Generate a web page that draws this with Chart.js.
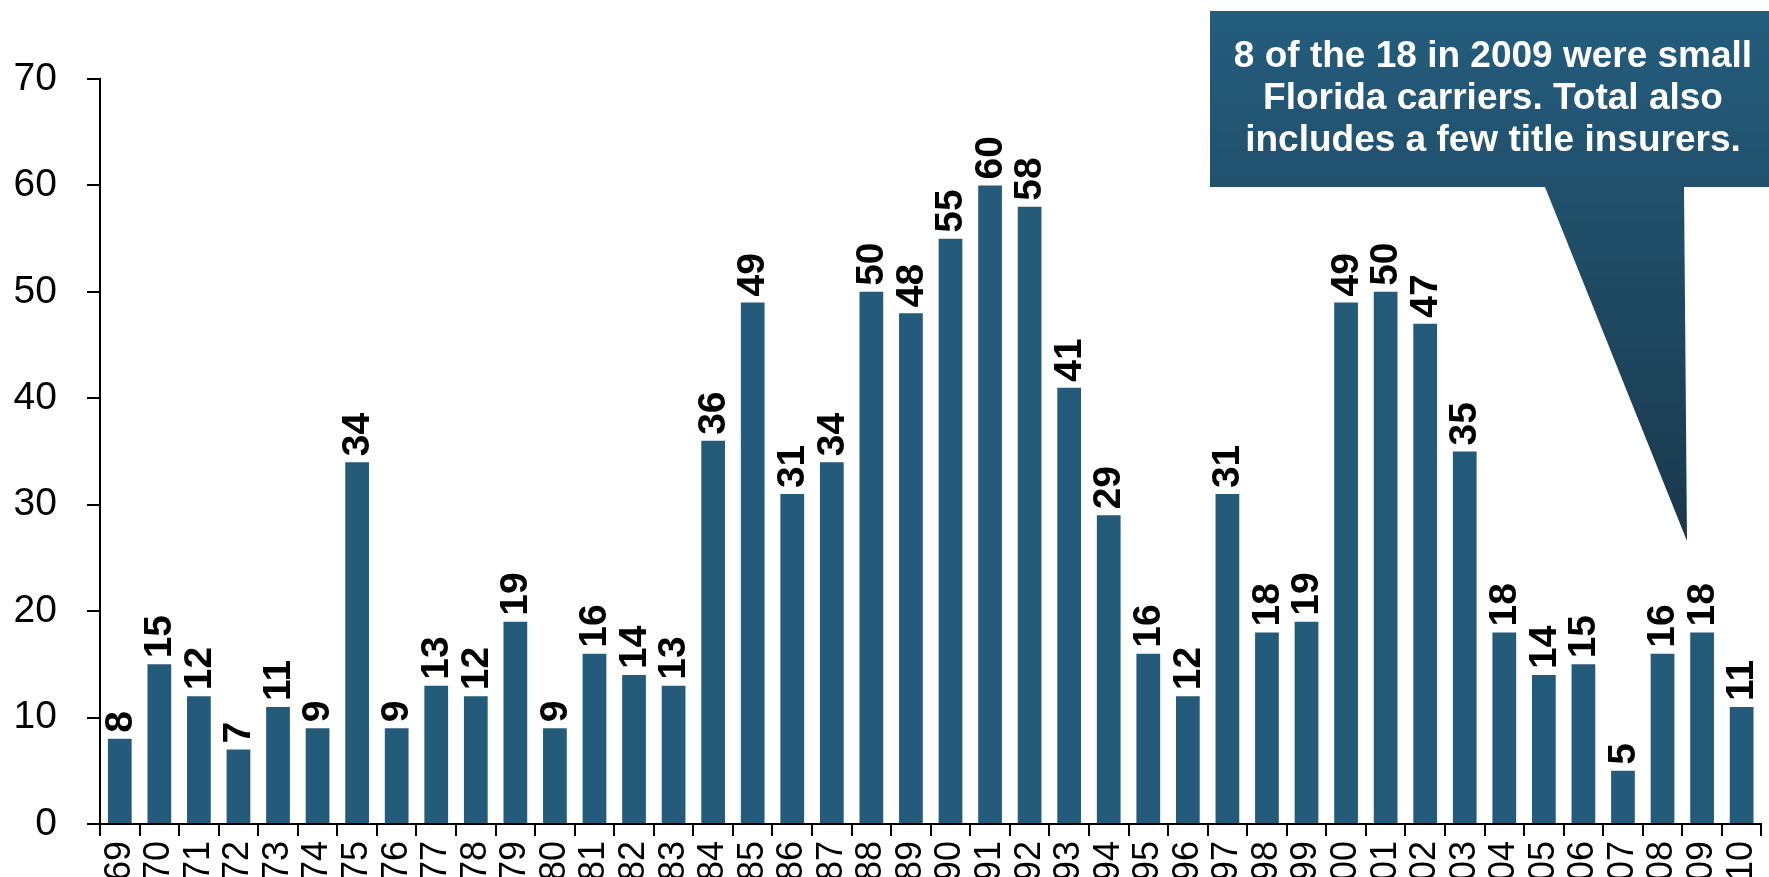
<!DOCTYPE html>
<html><head><meta charset="utf-8">
<script src="https://cdn.jsdelivr.net/npm/chart.js@4.4.0/dist/chart.umd.min.js"></script>
<style>
html,body{margin:0;padding:0;background:#fff;overflow:hidden;width:1769px;height:877px;}
#wrap{position:absolute;left:0;top:0;width:1790px;height:900px;}
</style></head><body>
<div id="wrap"><canvas id="c"></canvas></div>
<script>
const years = ['69','70','71','72','73','74','75','76','77','78','79','80','81','82','83','84','85','86','87','88','89','90','91','92','93','94','95','96','97','98','99','00','01','02','03','04','05','06','07','08','09','10'];
const failures = [8,15,12,7,11,9,34,9,13,12,19,9,16,14,13,36,49,31,34,50,48,55,60,58,41,29,16,12,31,18,19,49,50,47,35,18,14,15,5,16,18,11];
const yMin = 0, yMax = 70, yStep = 10;
const calloutLines = ['8 of the 18 in 2009 were small','Florida carriers. Total also','includes a few title insurers.'];

const FONT = '"Liberation Sans", Arial, Helvetica, sans-serif';
const BAR = '#245b7a';

const barLabels = {
  id: 'barLabels',
  afterDatasetsDraw(chart) {
    const ctx = chart.ctx;
    const meta = chart.getDatasetMeta(0);
    const data = chart.data.datasets[0].data;
    ctx.save();
    ctx.font = 'bold 39px ' + FONT;
    ctx.fillStyle = '#000';
    ctx.textAlign = 'left';
    ctx.textBaseline = 'middle';
    meta.data.forEach((bar, i) => {
      ctx.save();
      ctx.translate(bar.x, bar.y - 6);
      ctx.rotate(-Math.PI / 2);
      ctx.fillText(String(data[i]), 0, 1);
      ctx.restore();
    });
    ctx.restore();
  }
};

const callout = {
  id: 'callout',
  afterDraw(chart) {
    const ctx = chart.ctx;
    ctx.save();
    const g = ctx.createLinearGradient(0, 11, 0, 540);
    g.addColorStop(0, '#245d7d');
    g.addColorStop(1, '#1a384c');
    ctx.fillStyle = g;
    ctx.beginPath();
    ctx.moveTo(1210, 11);
    ctx.lineTo(1780, 11);
    ctx.lineTo(1780, 187);
    ctx.lineTo(1684, 187);
    ctx.lineTo(1687, 541);
    ctx.lineTo(1545, 187);
    ctx.lineTo(1210, 187);
    ctx.closePath();
    ctx.fill();
    ctx.fillStyle = '#fff';
    ctx.font = 'bold 37px ' + FONT;
    ctx.textAlign = 'center';
    ctx.textBaseline = 'middle';
    calloutLines.forEach((t, i) => ctx.fillText(t, 1493, 57 + i * 42));
    ctx.restore();
  }
};

new Chart(document.getElementById('c'), {
  type: 'bar',
  data: {
    labels: years,
    datasets: [{ data: failures, backgroundColor: BAR, borderWidth: 0, barPercentage: 0.6, categoryPercentage: 1.0 }]
  },
  options: {
    responsive: true,
    maintainAspectRatio: false,
    animation: false,
    layout: { padding: { left: 0, right: 13, top: 79, bottom: 0 } },
    plugins: { legend: { display: false }, tooltip: { enabled: false } },
    scales: {
      x: {
        grid: { drawOnChartArea: false, drawTicks: true, tickLength: 12, color: '#000', lineWidth: 2 },
        border: { display: true, color: '#000', width: 2 },
        ticks: { color: '#000', font: { family: FONT, size: 36 }, maxRotation: 90, minRotation: 90, autoSkip: false, padding: 5 },
        afterFit(s) { s.height = 76; }
      },
      y: {
        min: yMin, max: yMax,
        grid: { drawOnChartArea: false, drawTicks: true, tickLength: 13, color: '#000', lineWidth: 2 },
        border: { display: true, color: '#000', width: 2 },
        ticks: { stepSize: yStep, color: '#000', font: { family: FONT, size: 39 }, padding: 30 },
        afterFit(s) { s.width = 100; }
      }
    }
  },
  plugins: [barLabels, callout]
});
</script>
</body></html>
